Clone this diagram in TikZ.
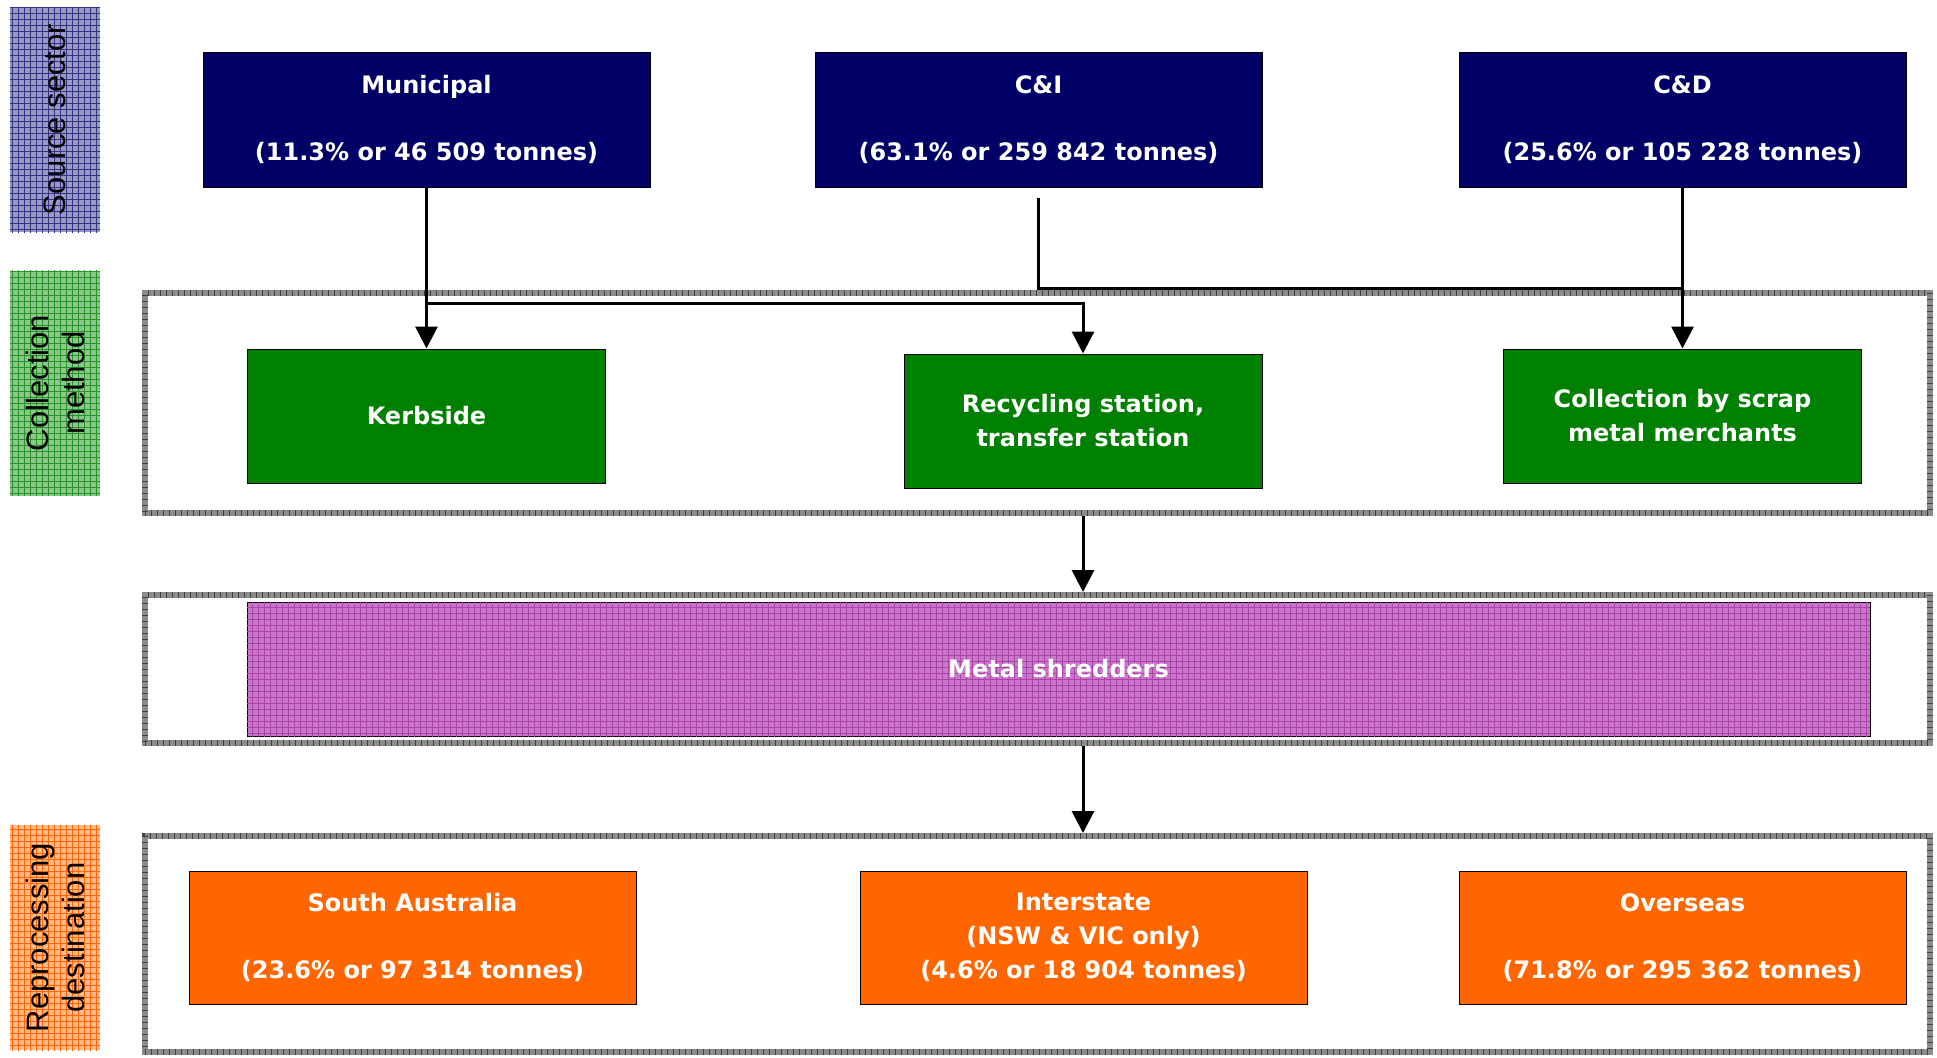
\documentclass[tikz,border=0pt]{standalone}
\usepackage{fontspec}
\setmainfont{DejaVu Sans}
\newfontfamily\sidefont{Liberation Sans}
\definecolor{sectorblue}{RGB}{0, 0, 102}
\definecolor{collectgreen}{RGB}{0, 128, 0}
\definecolor{destorange}{RGB}{255, 102, 0}
\definecolor{shredpink}{RGB}{200, 120, 200}
\definecolor{shredgrid}{RGB}{150, 20, 150}
\usetikzlibrary{arrows.meta, positioning, calc, patterns}
\newcommand{\boxfont}{\fontsize{12}{17}\selectfont\bfseries}
\newcommand{\sidelabelfont}{\sidefont\fontsize{15.5}{18}\selectfont}

\begin{document}
\begin{tikzpicture}[x=0.5pt, y=-0.5pt,
  flow/.style={line width=1.5pt, -{Triangle[length=11pt, width=11pt]}},
  link/.style={line width=1.5pt},
  sidelabel/.style={rotate=90, minimum width=112.5pt, minimum height=45pt, inner sep=0pt, align=center, font=\sidelabelfont},
  frame/.style={draw=black!45, line width=3pt, minimum width=892.5pt, inner sep=0pt, outer sep=1.5pt,
    postaction={draw=black!75, line width=3pt, dash pattern=on 0.5pt off 2.5pt}},
  plainbox/.style={draw=black, line width=0.5pt, inner sep=0pt, align=center, text=white, font=\boxfont}
]
  \useasboundingbox (0, 0) rectangle (1937, 1057);

  % Side labels
  \node[sidelabel, fill=sectorblue!40, postaction={pattern=grid, pattern color=sectorblue!80}] (sidesource) at (55, 119.5) {Source sector};
  \node[sidelabel, fill=collectgreen!45, postaction={pattern=grid, pattern color=collectgreen!85}] (sidecollect) at (55, 383) {Collection\\method};
  \node[sidelabel, fill=destorange!45, postaction={pattern=grid, pattern color=destorange}] (sidedest) at (55, 937.5) {Reprocessing\\destination};

  % Frames
  \node[frame, minimum height=110pt] (colframe) at (1037.5, 403) {};
  \node[frame, minimum height=74pt] (shredframe) at (1037.5, 669) {};
  \node[frame, minimum height=108pt] (destframe) at (1037.5, 944) {};

  % Source sectors
  \node[plainbox, fill=sectorblue, minimum width=223.5pt, minimum height=67.5pt] (mun) at (426.5, 119.5) {Municipal\\[16.5pt](11.3\% or 46 509 tonnes)};
  \node[plainbox, fill=sectorblue, minimum width=223.5pt, minimum height=67.5pt] (ci) at (1038.5, 119.5) {C\&I\\[16.5pt](63.1\% or 259 842 tonnes)};
  \node[plainbox, fill=sectorblue, minimum width=223.5pt, minimum height=67.5pt] (cd) at (1682.5, 119.5) {C\&D\\[16.5pt](25.6\% or 105 228 tonnes)};

  % Collection methods
  \node[plainbox, fill=collectgreen, minimum width=179pt, minimum height=67pt] (kerb) at (426.5, 416) {Kerbside};
  \node[plainbox, fill=collectgreen, minimum width=179pt, minimum height=67pt] (rec) at (1083, 421) {Recycling station,\\transfer station};
  \node[plainbox, fill=collectgreen, minimum width=179pt, minimum height=67pt] (scrap) at (1682.5, 416) {Collection by scrap\\metal merchants};

  % Shredders
  \node[plainbox, fill=shredpink, postaction={pattern=grid, pattern color=shredgrid!80}, minimum width=811.5pt, minimum height=67pt] (shred) at (1058.5, 669) {Metal shredders};

  % Destinations
  \node[plainbox, fill=destorange, minimum width=223.5pt, minimum height=66.5pt] (sa) at (412.5, 937.5) {South Australia\\[16.5pt](23.6\% or 97 314 tonnes)};
  \node[plainbox, fill=destorange, minimum width=223.5pt, minimum height=66.5pt] (inter) at (1083.5, 937.5) {Interstate\\(NSW \& VIC only)\\(4.6\% or 18 904 tonnes)};
  \node[plainbox, fill=destorange, minimum width=223.5pt, minimum height=66.5pt] (over) at (1682.5, 937.5) {Overseas\\[16.5pt](71.8\% or 295 362 tonnes)};

  % Connectors
  \coordinate (munsplit) at (mun.south |- 0, 303);
  \coordinate (cistart) at ([yshift=-5pt]ci.south);
  \coordinate (cdjoin) at (cd.south |- 0, 288);

  \draw[flow] (mun.south) -- (mun.south |- kerb.north);
  \draw[flow] (munsplit) -| (rec.north);
  \draw[link] (cistart) |- (cdjoin);
  \draw[flow] (cd.south) -- (scrap.north);
  \draw[flow] (colframe.south -| rec.north) -- (shredframe.north -| rec.north);
  \draw[flow] (shredframe.south -| rec.north) -- (destframe.north -| rec.north);
\end{tikzpicture}
\end{document}
